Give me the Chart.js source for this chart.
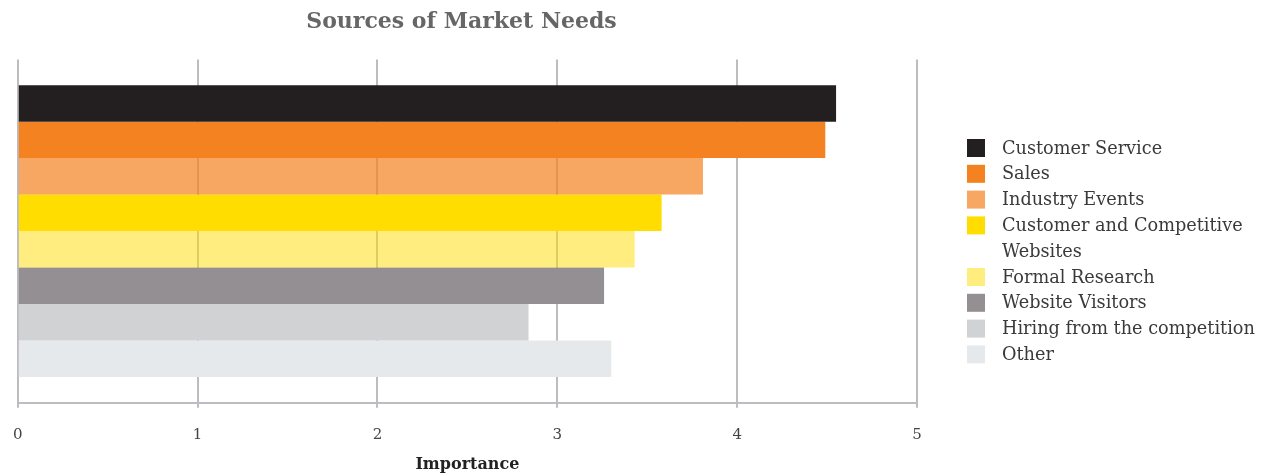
<!DOCTYPE html>
<html>
<head>
<meta charset="utf-8">
<script src="https://cdn.jsdelivr.net/npm/chart.js@4/dist/chart.umd.min.js"></script>
<style>
  html, body { margin: 0; padding: 0; background: #fff; }
  #wrap { width: 1267px; height: 476px; position: relative; }
</style>
</head>
<body>
<div id="wrap"><canvas id="myChart"></canvas></div>
<script>
// data
const sources = ['Customer Service', 'Sales', 'Industry Events', 'Customer and Competitive Websites',
  'Formal Research', 'Website Visitors', 'Hiring from the competition', 'Other'];
const importance = [4.55, 4.49, 3.81, 3.58, 3.43, 3.26, 2.84, 3.30];
const colors = ['#231F20', '#F58220', 'rgba(245,130,32,0.7)', '#FFDD00',
  'rgba(255,221,0,0.5)', '#948F92', '#D1D2D4', '#E6E9EC'];
const xTicks = [0, 1, 2, 3, 4, 5];

const serif = '"DejaVu Serif", serif';
const gridColor = '#BDBDC1';

const datasets = sources.map((s, i) => ({
  label: s,
  data: [importance[i]],
  backgroundColor: colors[i],
  borderWidth: 0,
  barPercentage: 1,
  categoryPercentage: 0.85
}));

// legend on the right, with wrapping of long names
const sideLegend = {
  id: 'sideLegend',
  afterDraw(chart) {
    const c = chart.ctx;
    const x0 = 967, tx = 1002, maxW = 1264 - tx;
    let y = 148;
    const step = 25.8;
    c.save();
    c.font = '300 17.7px ' + serif;
    c.textBaseline = 'middle';
    chart.data.datasets.forEach(ds => {
      c.fillStyle = ds.backgroundColor;
      c.fillRect(x0, y - 9, 18, 18);
      // wrap
      const words = ds.label.split(' ');
      let lines = [], cur = '';
      words.forEach(w => {
        const t = cur ? cur + ' ' + w : w;
        if (c.measureText(t).width > maxW && cur) { lines.push(cur); cur = w; }
        else cur = t;
      });
      lines.push(cur);
      c.fillStyle = '#3A3A3A';
      lines.forEach(l => { c.fillText(l, tx, y + 1); y += step; });
    });
    c.restore();
  }
};

const ctx = document.getElementById('myChart');
myChart = new Chart(ctx, {
  type: 'bar',
  data: { labels: [''], datasets: datasets },
  options: {
    indexAxis: 'y',
    responsive: true,
    maintainAspectRatio: false,
    animation: false,
    layout: { padding: { left: 6, right: 350, top: 0, bottom: 2 } },
    scales: {
      x: {
        min: 0,
        max: 5,
        afterBuildTicks: axis => { axis.ticks = xTicks.map(v => ({ value: v })); },
        grid: { color: gridColor, lineWidth: 2, tickLength: 5, tickColor: gridColor },
        border: { color: gridColor, width: 2 },
        ticks: { color: '#444', font: { family: serif, size: 15, lineHeight: 1.87 }, padding: 13 },
        title: {
          display: true,
          text: 'Importance',
          color: '#222',
          font: { family: serif, size: 16, weight: 'bold' },
          padding: { top: -7, bottom: 0 }
        }
      },
      y: { display: false }
    },
    plugins: {
      legend: { display: false },
      tooltip: { enabled: false },
      title: {
        display: true,
        text: 'Sources of Market Needs',
        color: '#666',
        font: { family: serif, size: 22, weight: 'bold' },
        padding: { top: 9, bottom: 24 }
      }
    }
  },
  plugins: [sideLegend]
});
</script>
</body>
</html>
